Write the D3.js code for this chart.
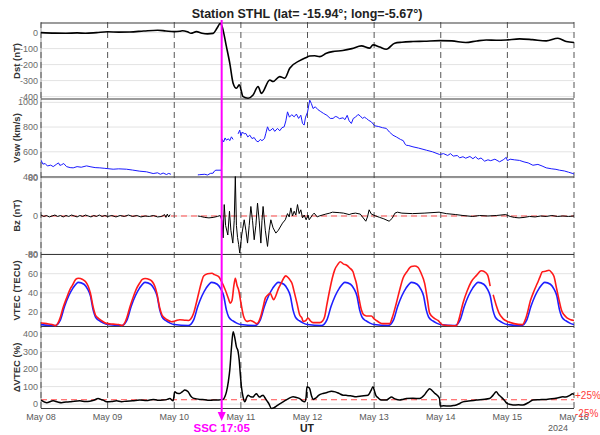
<!DOCTYPE html>
<html lang="en">
<head>
  <meta charset="utf-8">
  <title>Station STHL – storm of May 2024</title>
  <style>
    html, body { margin:0; padding:0; background:#fff; }
    svg { display:block; font-family:"Liberation Sans", Arial, sans-serif; }
  </style>
</head>
<body>
  <svg id="chart" width="600" height="435"></svg>
  <script src="https://cdn.jsdelivr.net/npm/d3@7"></script>
  <script>
    // hours since 2024-05-08 00:00 UT
    const dayLabels = ["May 08","May 09","May 10","May 11","May 12","May 13","May 14","May 15","May 16"];
    const sscHour = 65 + 5/60;   // 10 May 17:05

    const dst = [
      [0,0],[5,-3],[9,-4],[13,-2],[16,-4],[20,0],[24,5],[28,3],[32,4],[37,10],[42,15],[45,10],[48,6],
      [50,8],[51,12],[53,3],[54,-4],[56,6],[58,-4],[60,-8],[62,-5],[63.5,30],[64.6,58],[65.2,40],
      [66.8,-88],[68,-191],[69.2,-316],[70.4,-348],[71.4,-327],[72.8,-400],[74.6,-410],[76.4,-390],
      [78.2,-337],[79.4,-380],[82.4,-296],[83.6,-306],[86,-275],[87.8,-285],[89.6,-223],[93.2,-175],
      [95.6,-155],[96.8,-146],[98.6,-145],[100.4,-150],[102.8,-129],[105,-119],[108.7,-112],[112,-100],
      [115.4,-83],[118.4,-97],[119.6,-77],[122,-90],[124.4,-104],[127.4,-66],[130,-60],[134,-56],
      [138,-54],[143.6,-50],[148,-52],[153,-62],[157,-52],[160.4,-46],[164,-48],[167.6,-46],[172.4,-39],
      [177,-44],[182,-52],[186.2,-35],[189.2,-56],[192,-62]
    ];

    const vsw = [
      [0,532],[0.7,500],[1.5,505],[2.3,485],[3.5,492],[4.4,480],[5.5,498],[6.3,510],[6.8,490],[7.4,495],
      [8.2,505],[9.2,480],[10.5,472],[11.6,470],[13,480],[14.5,475],[16.4,486],[18,478],[19.5,472],
      [21.2,470],[23,466],[26,459],[28,462],[30.8,459],[33,452],[35.6,443],[38,438],[40.4,424],[42,430],
      [43,418],[44,428],[45.2,416],[46,425],[46.8,418],[47,null],[56,null],[56.5,413],[57.2,415],[59,418],
      [60,412],[61,425],[62,427],[62.5,445],[63,451],[65,451],[65.3,700],[65.8,680],[66.3,712],[66.8,694],
      [67.5,705],[68,690],[68.6,721],[69.2,700],[69.8,null],[70.6,null],[71,745],[71.6,775],[72,730],
      [72.6,760],[73.2,745],[73.8,748],[74.5,720],[75.2,735],[76,707],[76.8,715],[77.5,690],[78.2,680],
      [79,700],[79.6,690],[80.5,707],[81,750],[81.6,802],[82.2,770],[82.8,775],[83.5,790],[84.2,765],
      [85.2,789],[86,770],[86.8,795],[87.6,802],[88.2,850],[88.8,923],[89.5,880],[90.3,900],[91.2,883],
      [92,905],[92.8,870],[93.6,896],[94.2,830],[94.8,816],[95.3,880],[96,920],[96.8,1018],[97.4,990],
      [98,950],[98.8,964],[99.8,940],[100.8,925],[101.8,910],[103,895],[104.2,870],[105.2,870],[106,885],
      [106.6,883],[107.5,868],[108.8,875],[109.5,860],[110.3,895],[111,850],[111.8,829],[112.5,870],
      [113.3,880],[114.2,902],[115,890],[115.8,870],[116.5,880],[117.2,870],[118,855],[119,842],[120.2,810],
      [121.5,805],[123,795],[124.4,789],[125.5,760],[126.8,734],[128,720],[129.5,700],[130.5,690],
      [131.2,660],[131.6,653],[132.5,650],[134,640],[136,630],[138.8,613],[141,600],[143.6,578],[145,585],
      [146.5,570],[147.5,585],[148.5,565],[150,570],[150.8,551],[152,560],[153,548],[154.5,562],[155.6,544],
      [156.5,560],[157.5,540],[158.5,550],[159.8,524],[161,535],[162,528],[163.5,540],[165.2,519],
      [166.5,535],[167.6,555],[168,528],[169,540],[170.5,535],[172.4,530],[174,518],[175.5,510],[177.2,491],
      [179,498],[180.5,485],[182,470],[184,462],[185.5,458],[186.8,451],[188.5,445],[190,435],[191.6,424],
      [192,420]
    ];

    const bz = [
      [0,2],[1,-1],[2,1],[3,-2],[4,0],[5,2],[6,-1],[7,1],[8,-2],[9,1],[10,-1],[11,2],[12,0],[13,-2],[14,1],
      [15,-1],[16,2],[17,0],[18,-2],[19,1],[20,-1],[21,2],[22,-1],[23,1],[24,-1],[25.5,1],[27,-2],[28.5,1],
      [30,-1],[31.5,2],[33,-1],[34.5,1],[36,-2],[37.5,0],[39,-1],[40.5,1],[42,-2],[43.5,-1],[44.5,3],[45,-3],
      [45.5,4],[46,-2],[46.5,3],[47,null],[56,null],[56.5,0],[57.5,-1],[59,-3],[60.5,-4],[62,-3],[63.5,-1],
      [64.6,1],[65.2,-10],[65.6,-46],[66,24],[66.5,-20],[67.3,-40],[67.9,10],[68.4,-30],[69.1,-57],
      [69.6,-10],[70,83],[70.4,-20],[70.8,-45],[71.2,-60],[71.6,-78],[72.3,-40],[73.2,-8],[73.8,-30],
      [74.4,-57],[75,-20],[75.6,20],[76.2,-10],[76.8,-50],[77.4,-20],[78,27],[78.6,-10],[79.2,-57],
      [79.6,-10],[80,20],[80.8,-30],[81.6,-64],[82.2,-30],[82.8,-8],[83.6,-25],[84.6,-36],[85.5,-30],
      [87,-15],[88,-8],[88.8,5],[89.4,-2],[90,17],[90.6,0],[91.2,10],[91.8,2],[92.4,24],[93,5],[93.6,13],
      [94.2,-4],[94.8,2],[95.5,-8],[96.2,2],[96.6,-8],[97.9,3],[98.4,6],[99.5,-2],[100.2,0],[102.6,4],
      [104,6],[105,8],[107.4,7],[109,6],[111,3],[112,5],[113.3,6],[115,4],[117,-11],[117.6,-2],[118.2,13],
      [119,4],[120.6,0],[122,-3],[123.5,-6],[125.4,-11],[126.5,-5],[127.5,6],[128.4,8],[130,6],[133.8,5],
      [138,6],[143.4,8],[146,5],[149.4,3],[152,1],[155.4,-1],[158,1],[161,0],[164,1],[167.4,3],[169,-1],
      [170.5,-3],[172.2,-4],[174,-3],[176,-1],[178,-2],[180,0],[182,-1],[184,1],[186,-1],[188,0],[190,-1],
      [192,0]
    ];

    // observed VTEC (red)
    const vtecObs = [
      [0,8.6],[2,8],[4,7],[5.2,5.8],[6,8],[7,15],[8,25],[9.4,36],[10.5,44],[11.2,47.3],[12.5,54],[13.5,55.3],
      [15,54],[16,51.8],[17,47],[17.8,39.7],[18.8,25],[19.6,17],[20.5,14],[21.4,12],[23,9],[24,8],
      [26,7.5],[28,7],[29.2,6],[30,8],[31,15],[32,25],[33.4,37],[34.5,45],[35.5,50],[36.5,54],[37.5,55],
      [39,54],[40,52],[41,47],[41.8,39],[42.8,24],[43.6,17],[44.5,14],[45.4,12],[47,10],[48,10.5],
      [49,11.5],[50,12],[52,11.5],[53.2,11.3],[54,13],[55,19],[56,30],[56.8,39.7],[57.7,50],[58.6,57.7],
      [60,60],[61.6,60.5],[62.5,59],[64,57],[65,52],[66.4,43],[67.4,35],[68.2,29.3],[68.8,32],[69.5,48],
      [70,55.3],[70.6,48],[71.2,43],[72,30],[73,15.4],[74.2,10.3],[75.4,11.3],[76.5,10],[77.8,8],[79,14],
      [80,25],[80.8,34.5],[81.8,38],[82.6,39.7],[83.2,36],[83.8,32.8],[84.6,37],[85.6,45],[86.5,50],
      [87.4,55.3],[88.2,57.7],[89,56],[89.8,53],[90.4,50],[91.3,40],[92.2,29.3],[93.2,17],[94,13.8],
      [94.4,10.3],[95.3,11],[96.2,13.8],[97,11],[98,9],[100.4,9],[101.5,11],[102.2,15.4],[103,28],[104,43],
      [104.9,55],[105.8,64],[107,70],[107.8,72.5],[109,70],[110,69],[111.2,66],[112.4,62],[113,56],
      [113.6,50],[114.5,35],[115.4,22.4],[116.3,17],[117.2,16],[119,16],[120,13],[120.8,11.3],[122,9],
      [123.2,8],[125.6,8],[126.5,14],[128,29.3],[129.2,43],[130.4,55.3],[131.8,62],[133.4,67.4],[134.6,68],
      [135.8,66.7],[137,60],[138.2,50],[139.2,33],[140,19],[141.5,14],[143,11.3],[144.8,6.5],[147,6],
      [149.6,5.8],[150.5,12],[152,29.3],[153.5,42],[155,51.6],[156.8,58],[158.6,63],[159.8,62],[160.9,58.5],
      [161.8,47],[161.9,null],[162.8,null],[162.9,38],[164,27],[165,19],[166.5,13],[168,10.3],[170.4,8],
      [173.4,7],[174.8,15],[176.4,32.8],[177.6,42],[178.8,50],[179.8,57],[180.6,62],[181.8,62.5],[183,63.6],
      [184,61],[184.8,57],[185.7,45],[186.6,32.8],[187.5,22],[188.4,17.2],[189.5,14],[190.8,12],[192,11.3]
    ];

    // quiet-day reference VTEC (blue)
    const vtecRef = [
      [0,7],[5,6],[7,12],[8.5,26],[10,37],[11.5,45],[13.5,51],[15.5,49],[16.8,44],[17.8,37],[18.8,22],[19.6,15],[21,11],[22.5,8.5],
      [24,7],[29,6],[31,12],[32.5,26],[34,37],[35.5,45],[37.5,51],[39.5,49],[40.8,44],[41.8,37],[42.8,22],[43.6,15],[45,11],[46.5,8.5],
      [48,7],[53,6],[55,12],[56.5,26],[58,37],[59.5,45],[61.5,51],[63.5,49],[64.8,44],[65.8,37],[66.8,22],[67.6,15],[69,11],[70.5,8.5],
      [72,7],[77,6],[79,12],[80.5,26],[82,37],[83.5,45],[85.5,51],[87.5,49],[88.8,44],[89.8,37],[90.8,22],[91.6,15],[93,11],[94.5,8.5],
      [96,7],[101,6],[103,12],[104.5,26],[106,37],[107.5,45],[109.5,51],[111.5,49],[112.8,44],[113.8,37],[114.8,22],[115.6,15],[117,11],[118.5,8.5],
      [120,7],[125,6],[127,12],[128.5,26],[130,37],[131.5,45],[133.5,51],[135.5,49],[136.8,44],[137.8,37],[138.8,22],[139.6,15],[141,11],[142.5,8.5],
      [144,7],[149,6],[151,12],[152.5,26],[154,37],[155.5,45],[157.5,51],[159.5,49],[160.8,44],[161.8,37],[162.8,22],[163.6,15],[165,11],[166.5,8.5],
      [168,7],[173,6],[175,12],[176.5,26],[178,37],[179.5,45],[181.5,51],[183.5,49],[184.8,44],[185.8,37],[186.8,22],[187.6,15],[189,11],[190.5,8.5],[192,7]
    ];

    const dvtec = [
      [0,23],[2,8],[4.4,19],[6,12],[7.4,8],[9,12],[10.4,13],[12,17],[14,19],[16,15],[17.6,17],[19,22],[20.6,32],
      [21.5,27],[22.4,23],[23.6,13],[25.5,15],[27.2,19],[29,14],[30.8,17],[33,19],[35.6,23],[38,20],[40.4,27],
      [42,22],[44,23],[45.5,27],[46.4,32],[47.6,19],[48.2,70],[49,62],[50,61],[51,72],[51.8,80],[53,70],[54,45],
      [54.8,34],[56,30],[57.2,27],[59,25],[60.5,22],[62,23],[64,24],[65.6,27],[66.3,45],[66.8,70],[67.5,130],
      [68,194],[68.6,320],[69.2,413],[69.8,380],[70.4,327],[71,300],[71.4,251],[71.8,170],[72.2,99],[72.8,40],
      [73.4,13],[74,35],[74.6,51],[75.5,42],[76.4,40],[77,52],[77.6,59],[78.2,48],[78.8,40],[79.4,47],[80,51],
      [80.6,38],[81.2,23],[82,5],[83,-25],[84,-20],[84.8,-11],[86,2],[87.2,13],[89,30],[90.8,42],[92,38],
      [93.2,32],[94,20],[95,13],[95.5,40],[95.8,99],[96.4,95],[96.8,88],[97.4,50],[98,27],[99,35],[100,50],
      [101.6,61],[103,66],[104.6,74],[106,70],[107.5,60],[108.8,51],[110,50],[111.5,48],[113.6,42],[115.5,46],
      [117.8,51],[118.8,75],[119.6,99],[120.2,70],[120.6,51],[121.5,35],[122.6,23],[124.4,23],[125.4,33],
      [126.2,40],[127.5,30],[129.2,23],[130.5,28],[131.6,32],[134,33],[136.4,32],[138,50],[139,72],[140,88],
      [141,75],[142,60],[143,46],[143.6,30],[143.8,-11],[145,-10],[147.2,-11],[148.5,-8],[149.6,-5],[151,5],
      [152,13],[154,18],[156.8,23],[159,27],[161.6,32],[162.8,50],[164,70],[164.8,55],[165.8,40],[167,20],
      [167.9,4],[169,-2],[170,-5],[172,-4],[173.6,-5],[175.5,8],[177.2,23],[179.5,25],[182,27],[184,30],
      [186,35],[188,42],[189,40],[190.5,50],[191.5,59],[192,55]
    ];

    const dstTicks   = [0,-100,-200,-300,-400];
    const vswTicks   = [400,600,800,1000];
    const bzTicks    = [-80,0,80];
    const vtecTicks  = [20,40,60,80];
    const dvtecTicks = [0,100,200,300,400];
    const thresholds = [25,-25];

    // ---- layout
    const svg = d3.select("#chart");
    const x = d3.scaleLinear().domain([0,192]).range([41,574]);

    const panels = [
      {id:"dst",  top:23,    bottom:99,    domain:[-415,60],  ticks:dstTicks,   label:"Dst (nT)"},
      {id:"vsw",  top:99,    bottom:177,   domain:[396,1027], ticks:vswTicks,   label:"Vsw (km/s)"},
      {id:"bz",   top:177,   bottom:254.5, domain:[-81,82],   ticks:bzTicks,    label:"Bz (nT)"},
      {id:"vtec", top:254.5, bottom:326.5, domain:[5,80],     ticks:vtecTicks,  label:"VTEC (TECU)"},
      {id:"dvtec",top:326.5, bottom:408.5, domain:[-25,443],  ticks:dvtecTicks, label:"\u0394VTEC (%)"}
    ];
    panels.forEach(p => { p.y = d3.scaleLinear().domain(p.domain).range([p.bottom, p.top]); });
    const P = Object.fromEntries(panels.map(p => [p.id, p]));

    const defs = svg.append("defs");
    panels.forEach(p => {
      defs.append("clipPath").attr("id","clip-"+p.id)
        .append("rect").attr("x",41).attr("y",p.top-1).attr("width",533).attr("height",p.bottom-p.top+2);
    });

    // grid lines + tick labels
    panels.forEach(p => {
      const g = svg.append("g");
      g.selectAll("line.grid").data(p.ticks).join("line")
        .attr("x1",41).attr("x2",574)
        .attr("y1",d => p.y(d)).attr("y2",d => p.y(d))
        .attr("stroke","#e3e3e3").attr("stroke-width",1);
      g.selectAll("text").data(p.ticks).join("text")
        .attr("x",38).attr("y",d => p.y(d)).attr("dy","0.35em")
        .attr("text-anchor","end").attr("font-size",9).attr("fill","#6b6b6b")
        .text(d => d);
      svg.append("text")
        .attr("transform",`translate(17,${(p.top+p.bottom)/2}) rotate(-90)`)
        .attr("text-anchor","middle").attr("dy","0.35em")
        .attr("font-size",9.5).attr("font-weight","bold").attr("fill","#333")
        .text(p.label);
    });

    // red reference lines
    svg.append("line")
      .attr("x1",41).attr("x2",574).attr("y1",P.bz.y(0)).attr("y2",P.bz.y(0))
      .attr("stroke","#ff4d4d").attr("stroke-width",1).attr("stroke-dasharray","6,4");
    svg.selectAll("line.thr").data(thresholds).join("line")
      .attr("x1",41).attr("x2",574)
      .attr("y1",d => P.dvtec.y(d)).attr("y2",d => P.dvtec.y(d))
      .attr("stroke","#ff4d4d").attr("stroke-width",1).attr("stroke-dasharray","6,4");

    // left axis line
    svg.append("line").attr("x1",41).attr("x2",41).attr("y1",23).attr("y2",408.5)
      .attr("stroke","#9a9a9a").attr("stroke-width",1);

    // day separators (dashed) and x labels
    const days = d3.range(dayLabels.length);
    svg.selectAll("line.day").data(days).join("line")
      .attr("x1",d => x(d*24)).attr("x2",d => x(d*24))
      .attr("y1",22).attr("y2",408.5)
      .attr("stroke","#555").attr("stroke-width",1).attr("stroke-dasharray","6,4");
    svg.selectAll("text.day").data(days).join("text")
      .attr("x",d => x(d*24)).attr("y",420)
      .attr("text-anchor","middle").attr("font-size",9).attr("fill","#5a5a5a")
      .text(d => dayLabels[d]);

    // panel frames
    const edges = Array.from(new Set(panels.flatMap(p => [p.top,p.bottom])));
    svg.selectAll("line.edge").data(edges).join("line")
      .attr("x1",41).attr("x2",574).attr("y1",d => d).attr("y2",d => d)
      .attr("stroke","#3a3a3a").attr("stroke-width",1.1);

    // series
    function drawSeries(p, data, color, width, curve) {
      const line = d3.line()
        .defined(d => d[1] != null)
        .x(d => x(d[0])).y(d => p.y(d[1]))
        .curve(curve || d3.curveLinear);
      svg.append("path").datum(data)
        .attr("clip-path",`url(#clip-${p.id})`)
        .attr("fill","none").attr("stroke",color).attr("stroke-width",width)
        .attr("stroke-linejoin","round")
        .attr("d",line);
    }
    drawSeries(P.dst, dst, "#000", 1.6, d3.curveMonotoneX);
    drawSeries(P.vsw, vsw, "#1a1aff", 1);
    drawSeries(P.bz, bz, "#000", 1);
    drawSeries(P.vtec, vtecRef, "#1f1fff", 1.6, d3.curveMonotoneX);
    drawSeries(P.vtec, vtecObs, "#ff1a1a", 1.6, d3.curveMonotoneX);
    drawSeries(P.dvtec, dvtec, "#000", 1.5, d3.curveMonotoneX);

    // threshold labels
    svg.selectAll("text.thr").data(thresholds).join("text")
      .attr("x",575).attr("y",d => P.dvtec.y(d) + (d > 0 ? -1 : 8))
      .attr("font-size",10).attr("fill","#ff3b3b")
      .text(d => (d > 0 ? "+" : "-") + Math.abs(d) + "%");

    // SSC marker
    const xs = x(sscHour);
    svg.append("line").attr("x1",xs).attr("x2",xs).attr("y1",20).attr("y2",414)
      .attr("stroke","#ff00ff").attr("stroke-width",2);
    svg.append("path")
      .attr("d",`M${xs-4},412L${xs+4},412L${xs},421Z`)
      .attr("fill","#ff00ff");
    svg.append("text").attr("x",xs).attr("y",432)
      .attr("text-anchor","middle").attr("font-size",11.5).attr("font-weight","bold")
      .attr("fill","#ff00ff").text("SSC 17:05");

    svg.append("text").attr("x",307).attr("y",432)
      .attr("text-anchor","middle").attr("font-size",10.5).attr("font-weight","bold")
      .attr("fill","#222").text("UT");
    svg.append("text").attr("x",558).attr("y",431)
      .attr("text-anchor","middle").attr("font-size",9).attr("fill","#5a5a5a").text("2024");

    // title
    svg.append("text").attr("x",307).attr("y",18)
      .attr("text-anchor","middle").attr("font-size",12.5).attr("font-weight","bold")
      .attr("fill","#222").text("Station STHL (lat= -15.94\u00b0; long=-5.67\u00b0)");
  </script>
</body>
</html>
